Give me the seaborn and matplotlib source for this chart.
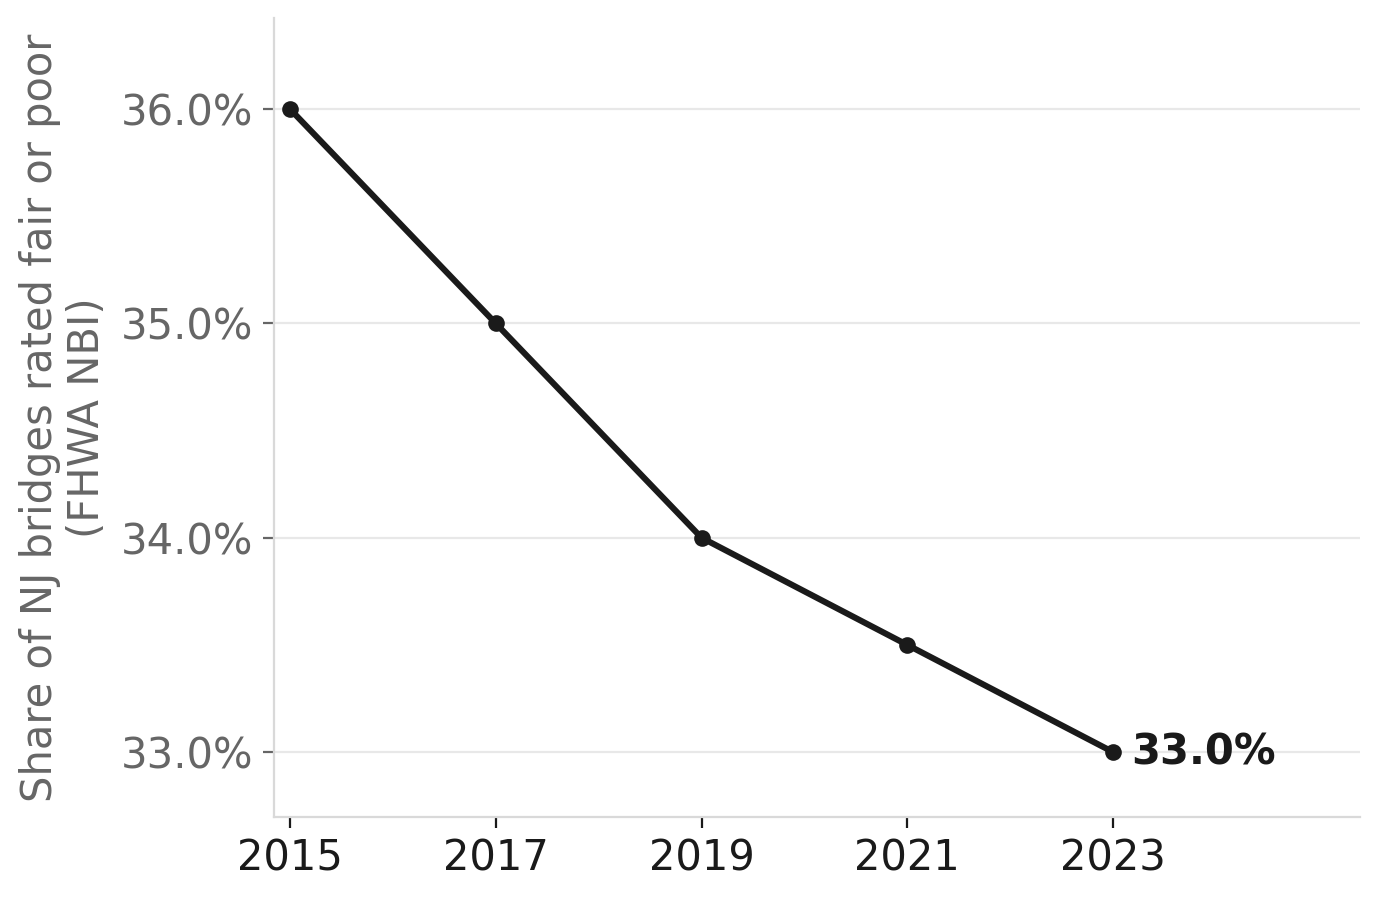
import pandas as pd
import seaborn as sns
import matplotlib.pyplot as plt
from matplotlib.ticker import PercentFormatter

years = [2015, 2017, 2019, 2021, 2023]
share_fair_poor = [36.0, 35.0, 34.0, 33.5, 33.0]

df = pd.DataFrame({'Year': years, 'Share': share_fair_poor})

sns.set_style('white')
plt.rcParams['font.family'] = ['DejaVu Sans']

fig, ax = plt.subplots(figsize=(6.9, 4.495), dpi=200)
sns.lineplot(data=df, x='Year', y='Share', color='#1a1a1a', linewidth=2.2,
             marker='o', markersize=6, markeredgewidth=0, ax=ax)

# label the last point
ax.annotate(f'{share_fair_poor[-1]:.1f}%', xy=(years[-1], share_fair_poor[-1]),
            xytext=(6.5, 0), textcoords='offset points', va='center', ha='left',
            fontsize=15, fontweight='bold', color='#1a1a1a')

ax.set_xlim(2014.845, 2025.4)
ax.set_ylim(32.697, 36.425)
ax.set_xticks(years)
ax.set_yticks([33, 34, 35, 36])
ax.yaxis.set_major_formatter(PercentFormatter(decimals=1))
ax.yaxis.grid(True, color='#e8e8e8', linewidth=0.8)
ax.set_axisbelow(True)

sns.despine(ax=ax)
for s in ['left', 'bottom']:
    ax.spines[s].set_color('#d9d9d9')
    ax.spines[s].set_linewidth(0.8)

ax.tick_params(axis='x', bottom=True, labelsize=15, colors='#1a1a1a', length=4, width=0.8)
ax.tick_params(axis='y', left=True, labelsize=15, colors='#666666', length=4, width=0.8)
ax.set_xlabel('')
ax.set_ylabel('Share of NJ bridges rated fair or poor\n(FHWA NBI)', fontsize=15,
              color='#666666', linespacing=1.15, labelpad=4.5)

fig.subplots_adjust(left=0.1986, right=0.9855, top=0.98, bottom=0.0912)
fig.savefig('out.png', dpi=200)
